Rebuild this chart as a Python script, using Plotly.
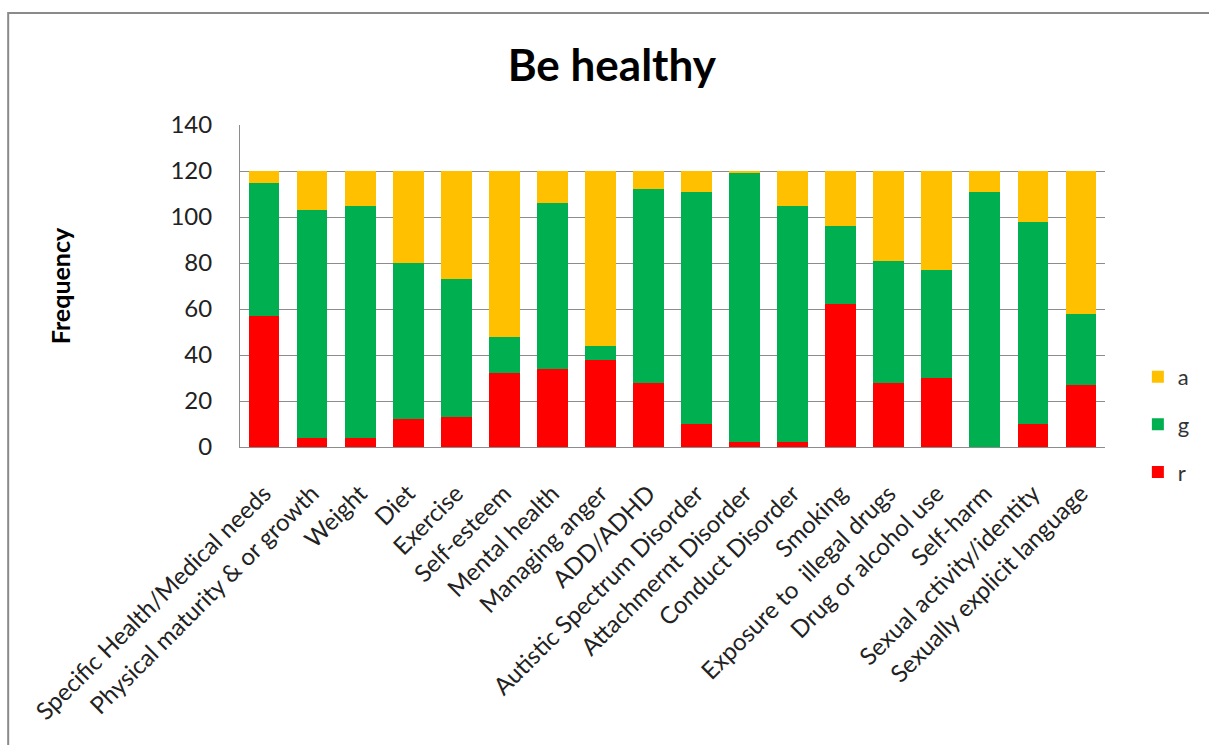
import plotly.graph_objects as go

categories = [
    "Specific Health/Medical needs", "Physical maturity & or growth", "Weight", "Diet",
    "Exercise", "Self-esteem", "Mental health", "Managing anger", "ADD/ADHD",
    "Autistic Spectrum Disorder", "Attachmernt Disorder", "Conduct Disorder", "Smoking",
    "Exposure to  illegal drugs", "Drug or alcohol use", "Self-harm",
    "Sexual activity/identity", "Sexually explicit language",
]
r_vals = [57, 4, 4, 12, 13, 32, 34, 38, 28, 10, 2, 2, 62, 28, 30, 0, 10, 27]
g_vals = [58, 99, 101, 68, 60, 16, 72, 6, 84, 101, 117, 103, 34, 53, 47, 111, 88, 31]
a_vals = [5, 17, 15, 40, 47, 72, 14, 76, 8, 9, 1, 15, 24, 39, 43, 9, 22, 62]
y_ticks = [0, 20, 40, 60, 80, 100, 120, 140]

FONT = "Lato"
fig = go.Figure()
for name, vals, col, rank in [("r", r_vals, "#FF0000", 3), ("g", g_vals, "#00B050", 2),
                              ("a", a_vals, "#FFC000", 1)]:
    fig.add_trace(go.Bar(x=categories, y=vals, name=name, marker_color=col,
                         marker_line_width=0, legendgroup=name, legendrank=rank))

fig.update_layout(
    barmode="stack",
    bargap=0.36,
    width=1209, height=745,
    margin=dict(l=240, r=104, t=125, b=298),
    paper_bgcolor="white", plot_bgcolor="white",
    font=dict(family=FONT, color="black"),
    title=dict(text="<b>Be healthy</b>", x=0.506, xanchor="center", y=0.912, yanchor="middle",
               font=dict(size=44, family=FONT, color="black")),
    legend=dict(traceorder="grouped", tracegroupgap=16, x=1.038, xanchor="left",
                y=0.07, yanchor="middle", font=dict(size=22, color="#333333"),
                itemwidth=30, bgcolor="rgba(0,0,0,0)"),
    showlegend=True,
)
fig.update_yaxes(range=[0, 140], tickvals=y_ticks, showgrid=True, gridcolor="#8c8c8c",
                 gridwidth=1, showline=True, linecolor="#8c8c8c", zeroline=False,
                 ticks="", tickfont=dict(size=24, color="#222222"), ticklabelstandoff=22,
                 title=dict(text="<b>Frequency</b>", font=dict(size=25), standoff=92))
fig.update_xaxes(tickangle=-45, showline=True, linecolor="#8c8c8c", ticks="",
                 tickfont=dict(size=24, color="#222222"), ticklabelstandoff=22)
fig.add_shape(type="rect", xref="paper", yref="paper", x0=-0.268, x1=1.2, y0=-1.1, y1=1.348,
              line=dict(color="#8a8a8a", width=2), fillcolor="rgba(0,0,0,0)", layer="below")
fig.write_html("out.html")
